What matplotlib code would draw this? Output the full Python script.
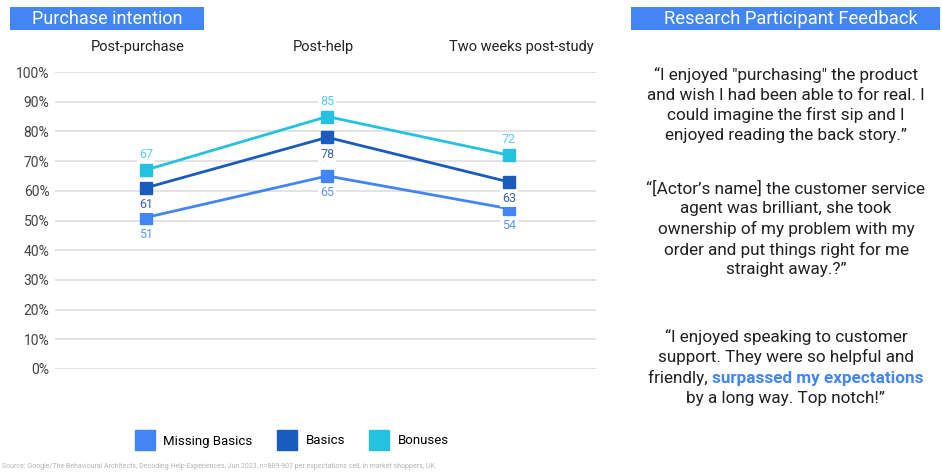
import matplotlib.pyplot as plt
from matplotlib.patches import Rectangle
from matplotlib.lines import Line2D

plt.rcParams['font.family'] = ['Roboto', 'DejaVu Sans']

# Data
stages = ['Post-purchase', 'Post-help', 'Two weeks post-study']
missing_basics = [51, 65, 54]
basics = [61, 78, 63]
bonuses = [67, 85, 72]
series_names = ['Missing Basics', 'Basics', 'Bonuses']
yticks = [0, 10, 20, 30, 40, 50, 60, 70, 80, 90, 100]

quote1 = ('\u201cI enjoyed "purchasing" the product\n'
          'and wish I had been able to for real. I\n'
          'could imagine the first sip and I\n'
          'enjoyed reading the back story.\u201d')
quote2 = ('\u201c[Actor\u2019s name] the customer service\n'
          'agent was brilliant, she took\n'
          'ownership of my problem with my\n'
          'order and put things right for me\n'
          'straight away.?\u201d')
quote3_top = ('\u201cI enjoyed speaking to customer\n'
              'support. They were so helpful and')
quote3_mid_a = 'friendly, '
quote3_mid_b = 'surpassed my expectations'
quote3_end = 'by a long way. Top notch!\u201d'
source = ('Source: Google/The Behavioural Architects, Decoding Help Experiences, Jun 2023, '
          'n=889-907 per expectations cell, in market shoppers, UK.')

# Colours
c_missing = '#4285F4'
c_basics = '#1A5BBE'
c_bonus = '#24C1E0'
lbl_missing = '#5B95F3'
lbl_basics = '#3D62B3'
lbl_bonus = '#5ACDE6'

W, H = 942, 472
fig = plt.figure(figsize=(W / 100, H / 100), dpi=100)


def fx(px):
    return px / W


def fy(py):
    return 1 - py / H


ax = fig.add_axes([fx(55), fy(369), fx(596) - fx(55), fy(72) - fy(369)])
ax.set_xlim(-0.5, 2.48)
ax.set_ylim(0, 100)
for s in ax.spines.values():
    s.set_visible(False)
ax.set_xticks([])
ax.set_yticks(yticks)
ax.set_yticklabels([f'{v}%' for v in yticks], fontsize=10, color='#444444')
ax.tick_params(axis='y', length=0, pad=4)
ax.grid(axis='y', color='#e3e3e3', linewidth=1.4)
ax.set_axisbelow(True)

x = list(range(len(stages)))
for vals, col in [(missing_basics, c_missing), (basics, c_basics), (bonuses, c_bonus)]:
    ax.plot(x, vals, color=col, lw=2, marker='s', markersize=8, zorder=3)

bbox = dict(boxstyle='square,pad=0.15', fc='white', ec='none')
for xi, v in zip(x, bonuses):
    ax.annotate(str(v), (xi, v), xytext=(0, 11), textcoords='offset points',
                ha='center', va='center', fontsize=9, color=lbl_bonus, bbox=bbox, zorder=4)
for xi, v in zip(x, basics):
    ax.annotate(str(v), (xi, v), xytext=(0, -12), textcoords='offset points',
                ha='center', va='center', fontsize=9, color=lbl_basics, bbox=bbox, zorder=4)
for xi, v in zip(x, missing_basics):
    ax.annotate(str(v), (xi, v), xytext=(0, -12), textcoords='offset points',
                ha='center', va='center', fontsize=9, color=lbl_missing, bbox=bbox, zorder=4)

# stage labels on top (slightly off-centre like the original table columns)
stage_shift = [-6, -3, 9]
for xi, name, dx in zip(x, stages, stage_shift):
    ax.annotate(name, (xi, 1), xycoords=('data', 'axes fraction'), xytext=(dx, 18),
                textcoords='offset points', ha='center', va='center',
                fontsize=10.5, color='#222222')

# title boxes
fig.patches.append(Rectangle((fx(10), fy(30)), fx(204) - fx(10), fy(7) - fy(30),
                             transform=fig.transFigure, fc='#4285F4', ec='none'))
fig.text(fx(107), fy(19), 'Purchase intention', ha='center', va='center',
         fontsize=13, color='white')
fig.patches.append(Rectangle((fx(631), fy(30)), fx(940) - fx(631), fy(7) - fy(30),
                             transform=fig.transFigure, fc='#4285F4', ec='none'))
fig.text(fx(791), fy(19), 'Research Participant Feedback', ha='center', va='center',
         fontsize=13.2, color='white')

# quotes
qfs = 12.3
qkw = dict(ha='center', va='center', fontsize=qfs, color='#202124', linespacing=1.36)
fig.text(fx(786), fy(105), quote1, **qkw)
fig.text(fx(786), fy(229), quote2, **qkw)
fig.text(fx(786), fy(347), quote3_top, **qkw)
fig.text(fx(786), fy(399), quote3_end, **qkw)

# mixed-style line, centred as a whole
ta = fig.text(0, fy(378), quote3_mid_a, ha='left', va='center', fontsize=qfs, color='#202124')
tb = fig.text(0, fy(378), quote3_mid_b, ha='left', va='center', fontsize=qfs,
              color='#4285F4', fontweight='bold')
fig.canvas.draw()
r = fig.canvas.get_renderer()
wa = ta.get_window_extent(r).width
wb = tb.get_window_extent(r).width
start = 786 - (wa + wb) / 2
ta.set_x(fx(start))
tb.set_x(fx(start + wa))

# legend
handles = [Line2D([], [], ls='none', marker='s', markersize=15, color=c)
           for c in [c_missing, c_basics, c_bonus]]
fig.legend(handles, series_names, loc='center', bbox_to_anchor=(fx(293), fy(441)),
           ncol=3, frameon=False, fontsize=9.5, handletextpad=0.8, columnspacing=2.0,
           handlelength=1.2)

fig.text(fx(2), fy(466), source, ha='left', va='center', fontsize=5, color='#b5b5b5')

fig.savefig('out.png', dpi=100)
